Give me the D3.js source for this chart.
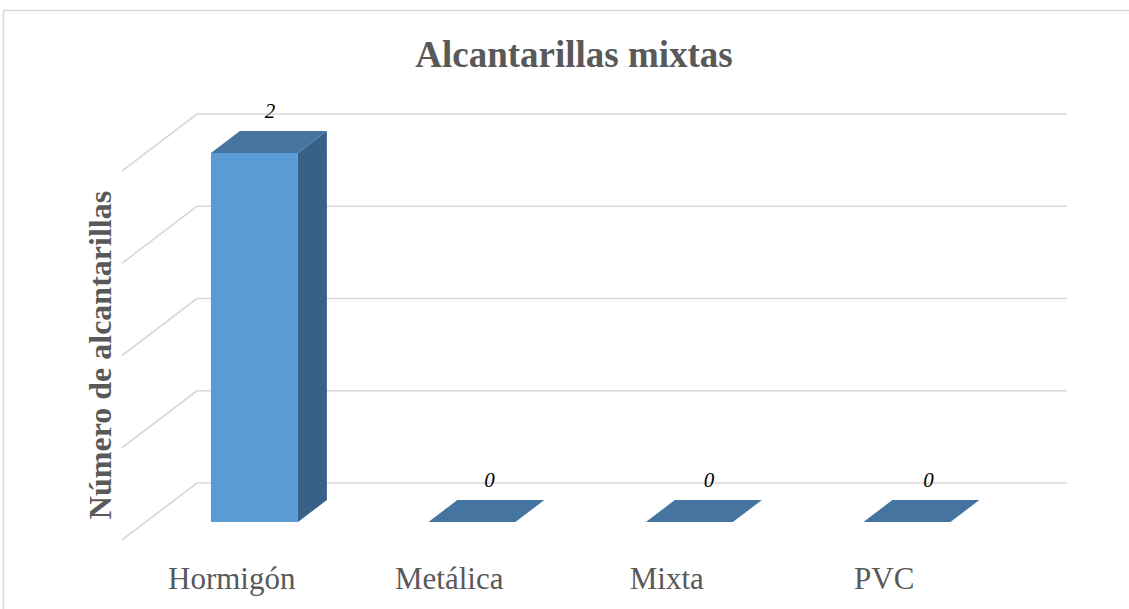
<!DOCTYPE html>
<html>
<head>
<meta charset="utf-8">
<script src="https://cdn.jsdelivr.net/npm/d3@7"></script>
<style>
html,body{margin:0;padding:0;background:#fff;}
svg{display:block;}
</style>
</head>
<body>
<script>
// ---- data ----
const categories = ["Hormigón", "Metálica", "Mixta", "PVC"];
const values = [2, 0, 0, 0];
const gridTicks = [0, 0.5, 1, 1.5, 2];
const chartTitle = "Alcantarillas mixtas";
const yAxisTitle = "Número de alcantarillas";

// ---- layout ----
const W = 1129, H = 609;
const svg = d3.select("body").append("svg").attr("width", W).attr("height", H);

// chart border
svg.append("rect").attr("x", 3.5).attr("y", 10.5).attr("width", W + 10).attr("height", H + 10)
  .attr("fill", "#fff").attr("stroke", "#d9d9d9").attr("stroke-width", 1.5);

// back wall scales
const x = d3.scaleBand().domain(categories).range([197, 1067]).padding(0);
const y = d3.scaleLinear().domain([0, 2]).range([483, 114]);
// depth vector: from back wall to front plane
const DX = -75, DY = 57;
const proj = (xb, yb, t) => [xb + DX * t, yb + DY * t];
const tFront = 0.684, tBack = 0.298;
const barFrac = 0.4;

const grid = svg.append("g");
gridTicks.forEach(v => {
  grid.append("line").attr("x1", x.range()[0]).attr("x2", x.range()[1])
    .attr("y1", y(v)).attr("y2", y(v)).attr("stroke", "#d9d9d9").attr("stroke-width", 1.6);
  const p = proj(x.range()[0], y(v), 1);
  grid.append("line").attr("x1", x.range()[0]).attr("y1", y(v)).attr("x2", p[0]).attr("y2", p[1])
    .attr("stroke", "#d9d9d9").attr("stroke-width", 1.6);
});

const cFront = "#5b9bd5", cTop = "#4574a1", cSide = "#386189";
const pts = a => a.map(p => p.join(",")).join(" ");

const bars = svg.append("g");
categories.forEach((c, i) => {
  const v = values[i];
  const bw = x.bandwidth() * barFrac;
  const xl = x(c) + (x.bandwidth() - bw) / 2, xr = xl + bw;
  const y0 = y(0), y1 = y(v);
  const fbl = proj(xl, y0, tFront), fbr = proj(xr, y0, tFront);
  const ftl = proj(xl, y1, tFront), ftr = proj(xr, y1, tFront);
  const bbr = proj(xr, y0, tBack), btl = proj(xl, y1, tBack), btr = proj(xr, y1, tBack);
  if (v > 0) {
    bars.append("polygon").attr("points", pts([fbr, ftr, btr, bbr])).attr("fill", cSide);
    bars.append("polygon").attr("points", pts([fbl, fbr, ftr, ftl])).attr("fill", cFront);
  }
  bars.append("polygon").attr("points", pts([ftl, ftr, btr, btl])).attr("fill", cTop);
  // data label
  const cx = (ftl[0] + btr[0]) / 2, cy = (ftl[1] + btr[1]) / 2;
  bars.append("text").attr("x", cx + 1 + i * 2).attr("y", cy - 24)
    .attr("text-anchor", "middle").attr("font-family", "Liberation Serif, Times New Roman, serif")
    .attr("font-style", "italic").attr("font-size", 21).attr("fill", "#000").text(v);
});

// category labels (front plane)
const labels = svg.append("g");
categories.forEach(c => {
  const p = proj(x(c) + x.bandwidth() / 2, y(0), 1);
  labels.append("text").attr("x", p[0] + 1).attr("y", 589)
    .attr("text-anchor", "middle").attr("font-family", "Liberation Serif, Times New Roman, serif")
    .attr("font-size", 31).attr("fill", "#595959").text(c);
});

// title
svg.append("text").attr("x", 574).attr("y", 67).attr("text-anchor", "middle")
  .attr("font-family", "Liberation Serif, Times New Roman, serif").attr("font-weight", "bold")
  .attr("font-size", 37).attr("fill", "#595959").text(chartTitle);

// y axis title
svg.append("text").attr("transform", "translate(111,355) rotate(-90)").attr("text-anchor", "middle")
  .attr("font-family", "Liberation Serif, Times New Roman, serif").attr("font-weight", "bold")
  .attr("font-size", 32).attr("fill", "#595959").text(yAxisTitle);
</script>
</body>
</html>
